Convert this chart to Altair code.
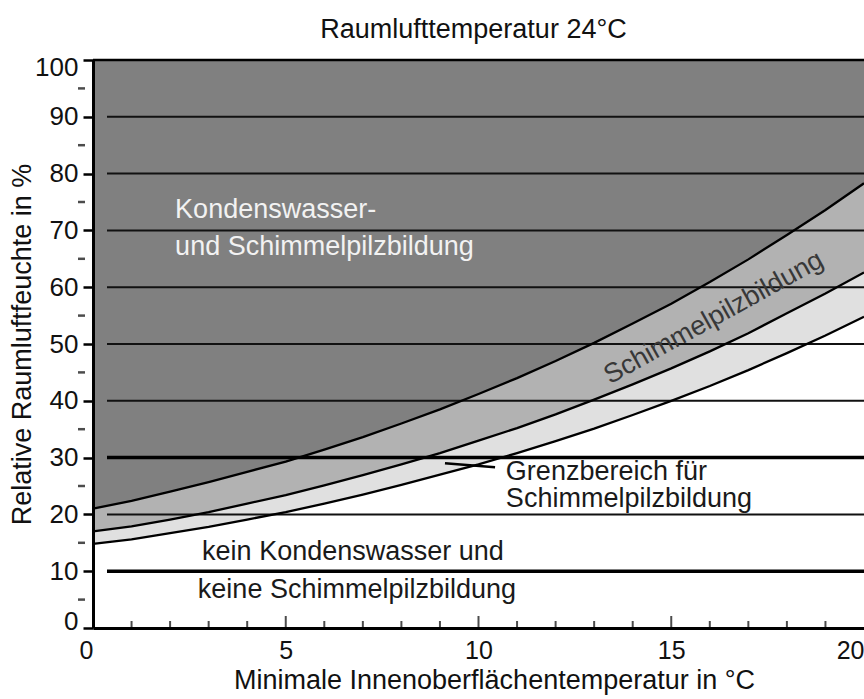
import altair as alt
import pandas as pd

F = "Liberation Sans, Arial, Helvetica, sans-serif"

# surface temperature (°C) and the three limit curves (relative humidity in %)
surface_temp = list(range(21))
condensation_rh = [21.0, 22.4, 24.0, 25.7, 27.5, 29.3, 31.4, 33.6, 36.0, 38.5, 41.2,
                   44.0, 47.0, 50.2, 53.6, 57.1, 60.9, 64.9, 69.2, 73.6, 78.3]
mould_rh = [17.0, 17.9, 19.1, 20.4, 21.9, 23.4, 25.1, 26.9, 28.8, 30.8, 33.0,
            35.2, 37.6, 40.2, 42.9, 45.7, 48.7, 51.9, 55.4, 58.9, 62.6]
limit_rh = [14.8, 15.6, 16.7, 17.8, 19.1, 20.4, 21.9, 23.5, 25.2, 27.0, 28.8,
            30.8, 32.9, 35.1, 37.5, 40.0, 42.6, 45.4, 48.4, 51.5, 54.8]

x_tick_labels = [0, 5, 10, 15, 20]
x_minor_ticks = [1, 2, 3, 4, 6, 7, 8, 9, 11, 12, 13, 14, 16, 17, 18, 19]
x_major_ticks = [5, 10, 15]
y_tick_labels = list(range(0, 101, 10))
y_minor_ticks = [5, 15, 25, 35, 45, 55, 65, 75, 85, 95]
thin_grid = [20, 40, 50, 60, 70, 80, 90]
thick_grid = [10, 30]

# annotations
white_text = ["Kondenswasser-", "und Schimmelpilzbildung"]
white_x = [2.13, 2.13]
white_y = [72.2, 65.7]
black_text = ["kein Kondenswasser und", "keine Schimmelpilzbildung",
              "Grenzbereich für", "Schimmelpilzbildung"]
black_x = [2.83, 2.72, 10.71, 10.71]
black_y = [12.0, 5.3, 26.1, 21.3]
band_text = ["Schimmelpilzbildung"]
band_x = [16.1]
band_y = [54.6]
pointer_x = [9.13]
pointer_x2 = [10.43]
pointer_y = [29.0]
pointer_y2 = [28.3]

W, H = 771, 568

df = pd.DataFrame({"t": surface_temp, "cond": condensation_rh,
                   "mould": mould_rh, "limit": limit_rh})

xs = alt.Scale(domain=[0, 20], nice=False, zero=False)
ys = alt.Scale(domain=[0, 100], nice=False, zero=False)

xaxis = alt.Axis(
    values=x_tick_labels, ticks=False, grid=False,
    domainColor="#000000", domainWidth=3,
    labelFont=F, labelFontSize=25, labelColor="#111111", labelPadding=10,
    labelAlign={"condition": {"test": "datum.value == 0 || datum.value == 20", "value": "right"},
                "value": "center"},
    title="Minimale Innenoberflächentemperatur in °C",
    titleFont=F, titleFontSize=27, titleFontWeight="normal", titleColor="#111111",
    titleX=401, titleY=60, titleAlign="center", titleBaseline="alphabetic",
    zindex=1,
)
yaxis = alt.Axis(
    values=y_tick_labels, grid=False,
    domainColor="#000000", domainWidth=3,
    tickColor="#000000", tickWidth=2.5, tickSize=10,
    labelFont=F, labelFontSize=26, labelColor="#111111", labelPadding=5,
    labelFlush=True, labelFlushOffset=6,
    title="Relative Raumluftfeuchte in %",
    titleFont=F, titleFontSize=27, titleFontWeight="normal", titleColor="#111111",
    titleX=-63, titleY=284, titleAngle=270, titleAlign="center", titleBaseline="alphabetic",
    zindex=1,
)


def X(field):
    return alt.X(field, scale=xs, axis=xaxis)


def Y(field):
    return alt.Y(field, scale=ys, axis=yaxis)


base = alt.Chart(df)
dark = base.mark_area(color="#808080").encode(x=X("t:Q"), y=Y("cond:Q"), y2=alt.datum(100))
medium = base.mark_area(color="#b2b2b2").encode(x=X("t:Q"), y=Y("mould:Q"), y2="cond:Q")
light = base.mark_area(color="#e0e0e0").encode(x=X("t:Q"), y=Y("limit:Q"), y2="mould:Q")

grid_thin = alt.Chart(pd.DataFrame({"g": thin_grid})).mark_rule(
    color="#111111", strokeWidth=2).encode(y=Y("g:Q"), x=alt.value(14), x2=alt.value(W))
grid_thick = alt.Chart(pd.DataFrame({"g": thick_grid})).mark_rule(
    color="#000000", strokeWidth=3.5).encode(y=Y("g:Q"), x=alt.value(14), x2=alt.value(W))
top_border = alt.Chart(pd.DataFrame({"g": [100]})).mark_rule(
    color="#000000", strokeWidth=2.5).encode(y=Y("g:Q"), x=alt.value(0), x2=alt.value(W))

curves = []
for col in ["cond", "mould", "limit"]:
    curves.append(base.mark_line(color="#000000", strokeWidth=2.3).encode(
        x=X("t:Q"), y=Y(f"{col}:Q")))

x_minor = alt.Chart(pd.DataFrame({"v": x_minor_ticks})).mark_tick(
    orient="vertical", color="#000000", size=7, thickness=2, yOffset=-3.5).encode(
    x=X("v:Q"), y=alt.value(H))
x_major = alt.Chart(pd.DataFrame({"v": x_major_ticks})).mark_tick(
    orient="vertical", color="#000000", size=12, thickness=2, yOffset=-6).encode(
    x=X("v:Q"), y=alt.value(H))
y_minor = alt.Chart(pd.DataFrame({"v": y_minor_ticks})).mark_tick(
    orient="horizontal", color="#000000", size=7, thickness=2.5).encode(
    y=Y("v:Q"), x=alt.value(-11.5))

pointer = alt.Chart(pd.DataFrame({"a": pointer_x, "b": pointer_x2,
                                  "c": pointer_y, "d": pointer_y2})).mark_rule(
    color="#000000", strokeWidth=2.5).encode(
    x=X("a:Q"), x2="b:Q", y=Y("c:Q"), y2="d:Q")

txt_white = alt.Chart(pd.DataFrame({"x": white_x, "y": white_y, "s": white_text})).mark_text(
    align="left", baseline="alphabetic", font=F, fontSize=27, color="#f2f2f2").encode(
    x=X("x:Q"), y=Y("y:Q"), text="s:N")
txt_black = alt.Chart(pd.DataFrame({"x": black_x, "y": black_y, "s": black_text})).mark_text(
    align="left", baseline="alphabetic", font=F, fontSize=27, color="#1a1a1a").encode(
    x=X("x:Q"), y=Y("y:Q"), text="s:N")
txt_band = alt.Chart(pd.DataFrame({"x": band_x, "y": band_y, "s": band_text})).mark_text(
    align="center", baseline="middle", angle=331, font=F, fontSize=27, color="#383838").encode(
    x=X("x:Q"), y=Y("y:Q"), text="s:N")

chart = alt.layer(
    dark, medium, light, grid_thin, grid_thick, top_border, *curves,
    x_minor, x_major, y_minor, pointer, txt_white, txt_black, txt_band,
).properties(
    width=W, height=H,
    title=alt.TitleParams("Raumlufttemperatur 24°C", font=F, fontSize=27,
                          fontWeight="normal", color="#111111", anchor="middle",
                          baseline="alphabetic", offset=23, dx=-5, dy=34),
    autosize=alt.AutoSizeParams(type="none"),
    padding={"left": 93, "top": 60, "right": 0, "bottom": 71},
).configure_view(stroke=None)

chart.save("out.html", embed_options={"renderer": "svg", "actions": False})
